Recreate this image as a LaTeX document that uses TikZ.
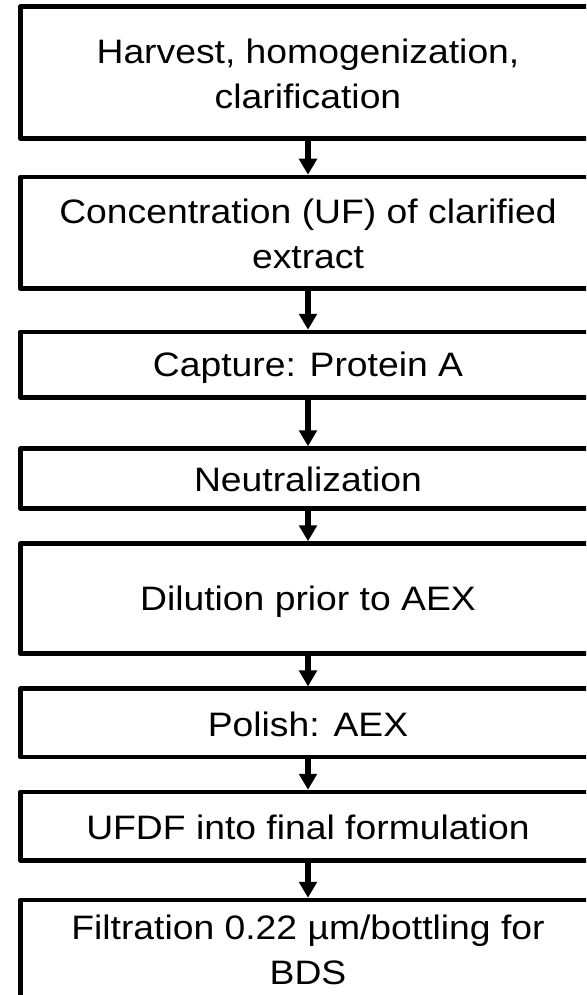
\documentclass[tikz,border=0pt]{standalone}
\usepackage{fontspec}
\setmainfont{Liberation Sans}[FakeStretch=1.10]
\usetikzlibrary{arrows.meta}
\newcommand\bxst{\rule[-4.7pt]{0pt}{35.7pt}}
\begin{document}
\begin{tikzpicture}[x=1pt,y=-1pt,
  stepbox/.style={draw=black, fill=white, line width=4.5pt, line join=round,
    minimum width=575.4pt, inner sep=0pt, align=center,
    font=\fontsize{33.9pt}{45pt}\selectfont},
  flow/.style={line width=5.5pt, -{Triangle[width=17.5pt,length=16pt]}}]
\clip (0,0) rectangle (586,995);
\fill[white] (0,0) rectangle (586,995);
\node[stepbox, minimum height=131.8pt] (b1) at (308,72.6) {\bxst Harvest, homogenization,\\\bxst clarification};
\node[stepbox, minimum height=111.7pt] (b2) at (308,232.85) {\bxst Concentration (UF) of clarified\\\bxst extract};
\node[stepbox, minimum height=65.3pt] (b3) at (308,364.65) {\bxst Capture: Protein A};
\node[stepbox, minimum height=59.8pt] (b4) at (308,478.4) {\bxst Neutralization};
\node[stepbox, minimum height=110.2pt] (b5) at (308,598.6) {\bxst Dilution prior to AEX};
\node[stepbox, minimum height=68.5pt] (b6) at (308,722.95) {\bxst Polish: AEX};
\node[stepbox, minimum height=68.3pt] (b7) at (308,826.15) {\bxst UFDF into final formulation};
\node[stepbox, minimum height=97pt] (b8) at (308,948.5) {\bxst Filtration 0.22 µm/bottling for\\\bxst BDS};
\draw[flow] (b1.south) -- (b2.north);
\draw[flow] (b2.south) -- (b3.north);
\draw[flow] (b3.south) -- (b4.north);
\draw[flow] (b4.south) -- (b5.north);
\draw[flow] (b5.south) -- (b6.north);
\draw[flow] (b6.south) -- (b7.north);
\draw[flow] (b7.south) -- (b8.north);
\end{tikzpicture}
\end{document}
